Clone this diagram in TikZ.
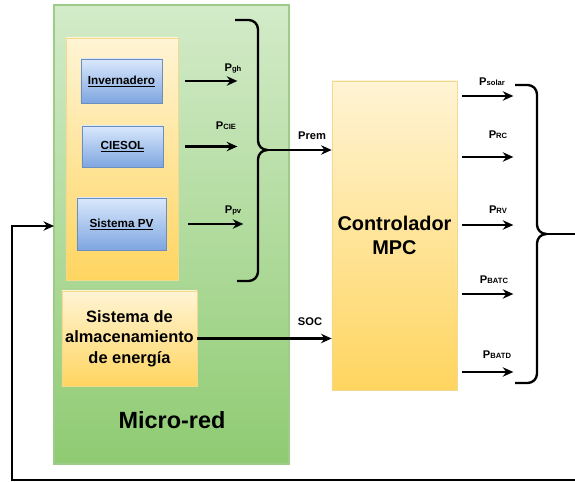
\documentclass[tikz,border=0pt]{standalone}
\usepackage{fontspec}
\setmainfont{Liberation Sans}
\usetikzlibrary{arrows.meta}

\definecolor{verdesup}{HTML}{D3EBC9}
\definecolor{verdeinf}{HTML}{8FCB72}
\definecolor{bordeverde}{HTML}{9DCB88}
\definecolor{amarillosup}{HTML}{FFF4D4}
\definecolor{amarilloinf}{HTML}{FFD560}
\definecolor{bordeamarillo}{HTML}{F3D98E}
\definecolor{azulsup}{HTML}{DAE8FC}
\definecolor{azulinf}{HTML}{7EA6E0}
\definecolor{bordeazul}{HTML}{6C8EBF}

% potencia con subindice pequeno en la misma linea base
\newcommand{\pot}[1]{P{\fontsize{6.5}{7}\selectfont #1}}

\begin{document}
\begin{tikzpicture}[x=0.03cm, y=-0.03cm,
    flecha/.style={-{Stealth[length=9pt,width=8pt]}, line width=2pt},
    llave/.style={line width=2pt, rounded corners=8pt},
    verde/.style={draw=bordeverde, line width=1.5pt, top color=verdesup, bottom color=verdeinf},
    amarillo/.style={draw=bordeamarillo, line width=0.6pt, top color=amarillosup, bottom color=amarilloinf},
    azul/.style={draw=bordeazul, line width=0.6pt, top color=azulsup, bottom color=azulinf,
        font=\fontsize{10}{12}\selectfont\bfseries},
    etiqueta/.style={font=\fontsize{9.5}{10}\selectfont\bfseries, inner sep=1pt}]
    \useasboundingbox (0,0) rectangle (575,482);

    % micro-red y sus fuentes
    \node[verde, minimum width=7.05cm, minimum height=13.77cm] (microred) at (171.5,234.5) {};
    \node[font=\fontsize{20}{24}\selectfont\bfseries] (titulo) at (172,420) {Micro-red};
    \node[amarillo, minimum width=3.36cm, minimum height=7.26cm] (fuentes) at (122,159) {};
    \node[azul, minimum width=2.43cm, minimum height=1.32cm] (inv) at (121.5,81) {\underline{Invernadero}};
    \node[azul, minimum width=2.43cm, minimum height=1.23cm] (ciesol) at (122.5,146.5) {\underline{CIESOL}};
    \node[azul, minimum width=2.67cm, minimum height=1.56cm] (pv) at (121.5,224) {\underline{Sistema PV}};
    \node[amarillo, minimum width=4.05cm, minimum height=2.85cm, inner sep=0pt, align=center,
        font=\fontsize{14}{17.5}\selectfont\bfseries] (almac) at (129.5,338.5) {Sistema de\\almacenamiento\\de energía};

    % controlador
    \node[amarillo, minimum width=3.75cm, minimum height=9.27cm, align=center,
        font=\fontsize{17}{20}\selectfont\bfseries] (mpc) at (394.5,235.5) {Controlador\\MPC};

    % potencias de cada fuente
    \draw[flecha] ([xshift=0.69cm]inv.east) -- ++(52,0);
    \draw[flecha] ([xshift=0.66cm]ciesol.east) -- ++(52,0);
    \draw[flecha] ([xshift=0.66cm]pv.east) -- ++(55,0);
    \node[etiqueta] (lgh) at (233,68) {\pot{gh}};
    \node[etiqueta] (lcie) at (226,126) {\pot{CIE}};
    \node[etiqueta] (lpv) at (233,210) {\pot{pv}};

    % llave de la izquierda
    \coordinate (puntaL) at (265,150);
    \draw[llave] (235,20) -| (258,150) -- (puntaL);
    \draw[llave] (237,281) -| (258,150) -- (puntaL);

    % entradas al controlador
    \draw[flecha] (puntaL) -- (puntaL -| mpc.west);
    \draw[flecha] (almac.east) -- (almac.east -| mpc.west);
    \node[etiqueta] (lrem) at (312,136) {Prem};
    \node[etiqueta] (lsoc) at (310,322) {SOC};

    % salidas del controlador
    \foreach \y/\nom/\lx/\ly in {96/solar/492/82, 157/RC/498/135, 225/RV/498/210,
                                 294/BATC/494/280, 372/BATD/497/355} {
        \draw[flecha] (mpc.east |- 0,\y) ++(5,0) -- ++(51,0);
        \node[etiqueta] at (\lx,\ly) {\pot{\nom}};
    }

    % llave de la derecha y realimentacion
    \coordinate (puntaR) at (542,234);
    \coordinate (entrada) at (54,226);
    \draw[llave] (515,85) -| (537,234) -- (puntaR);
    \draw[llave] (515,383) -| (537,234) -- (puntaR);
    \draw[flecha, rounded corners=0pt] (puntaR) -- (582,234) |- (12,480) |- (entrada);
\end{tikzpicture}
\end{document}
